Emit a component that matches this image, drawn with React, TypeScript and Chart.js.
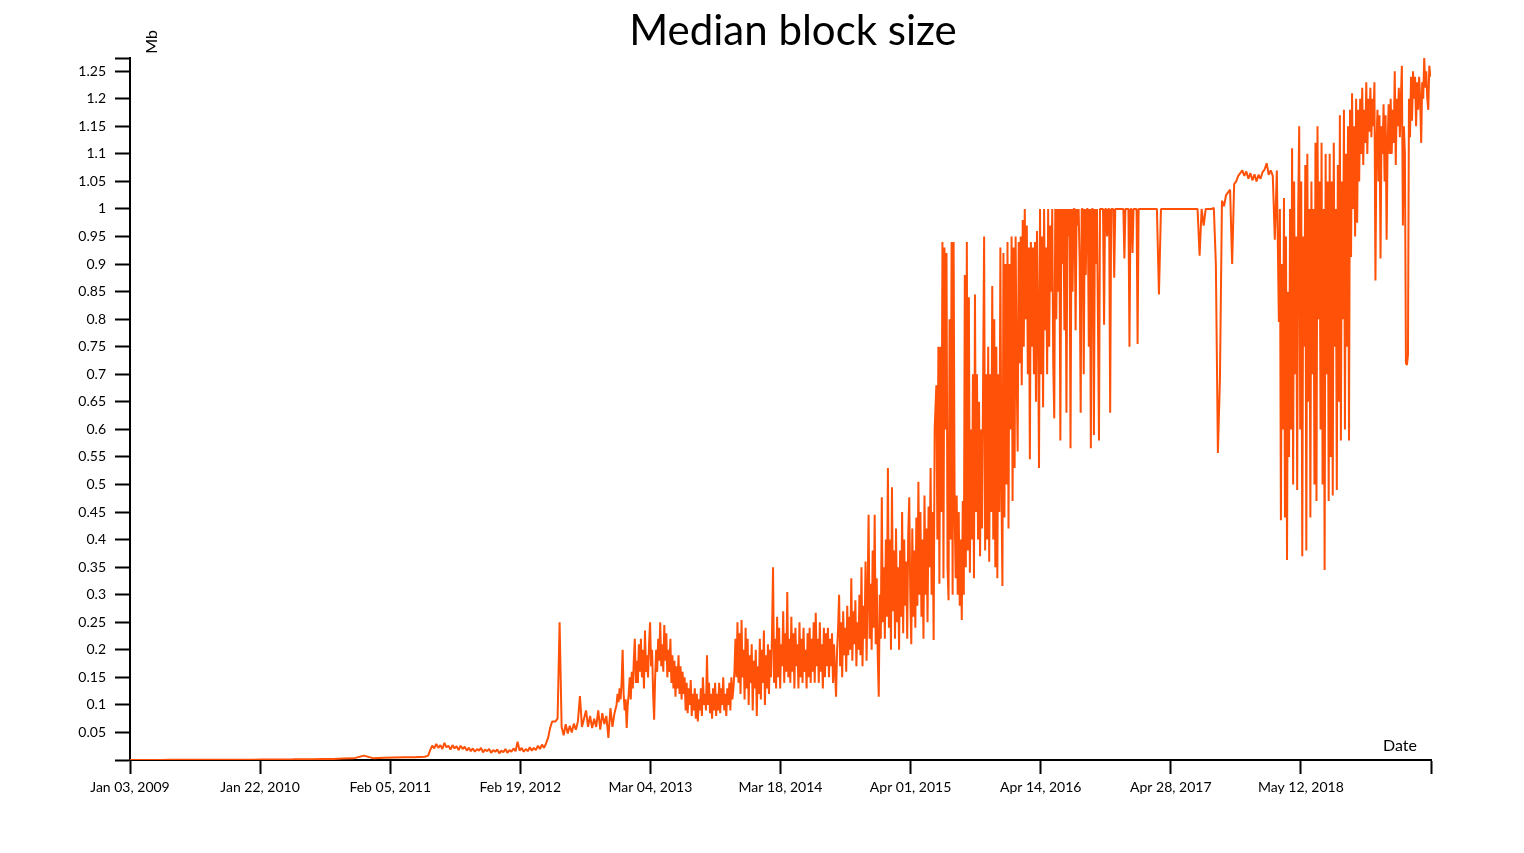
import React, { useEffect, useRef } from 'react';
import { Chart, registerables } from 'chart.js';

Chart.register(...registerables);

const LINE_COLOR = '#ff5107';
const FONT = 'Lato, "Open Sans", sans-serif';

// x axis = days since Jan 03, 2009
const X_MAX_DAYS = 3840;
const xTickDays = [0, 384, 768, 1152, 1536, 1920, 2304, 2688, 3072, 3456, 3840];
const xTickLabels = [
  'Jan 03, 2009', 'Jan 22, 2010', 'Feb 05, 2011', 'Feb 19, 2012', 'Mar 04, 2013',
  'Mar 18, 2014', 'Apr 01, 2015', 'Apr 14, 2016', 'Apr 28, 2017', 'May 12, 2018', '',
];

const Y_MAX = 1.274;
const yTickValues = [
  0, 0.05, 0.1, 0.15, 0.2, 0.25, 0.3, 0.35, 0.4, 0.45, 0.5, 0.55, 0.6,
  0.65, 0.7, 0.75, 0.8, 0.85, 0.9, 0.95, 1, 1.05, 1.1, 1.15, 1.2, 1.25,
];

// 2009 -> mid 2011, one sample every 30 days
const earlyStart = 0;
const earlyStep = 30;
const earlySizes = [
  0.0002, 0.0002, 0.0002, 0.0002, 0.0003, 0.0003, 0.0003, 0.0003, 0.0004, 0.0004,
  0.0005, 0.0005, 0.0006, 0.0007, 0.0008, 0.001, 0.0012, 0.0015, 0.0014, 0.0018,
  0.002, 0.0025, 0.003, 0.008, 0.003, 0.004, 0.0045, 0.005, 0.0048, 0.006,
];

// mid 2011 -> spring 2012, every 6 days
const start2011 = 880;
const step2011 = 6;
const sizes2011 = [
  0.008, 0.018, 0.026, 0.021, 0.029, 0.022, 0.027, 0.02, 0.031, 0.023,
  0.026, 0.019, 0.027, 0.021, 0.025, 0.018, 0.026, 0.02, 0.024, 0.017,
  0.022, 0.016, 0.021, 0.015, 0.02, 0.017, 0.022, 0.014, 0.019, 0.016,
  0.02, 0.013, 0.018, 0.015, 0.019, 0.012, 0.017, 0.014, 0.02, 0.013,
  0.018, 0.015, 0.021, 0.016, 0.033, 0.017, 0.022, 0.015, 0.02, 0.016,
  0.023, 0.017, 0.022, 0.018, 0.026, 0.02, 0.028, 0.022, 0.03, 0.04,
  0.058, 0.07,
];

// spring 2012 -> end 2012, every 6 days
const start2012 = 1256;
const step2012 = 6;
const sizes2012 = [
  0.07, 0.075, 0.25, 0.06, 0.045, 0.065, 0.048, 0.062, 0.05, 0.066,
  0.055, 0.07, 0.116, 0.06, 0.075, 0.09, 0.06, 0.08, 0.058, 0.075,
  0.06, 0.09, 0.055, 0.085, 0.065, 0.08, 0.04, 0.094, 0.06, 0.085,
];

// end 2012 -> spring 2015, every 3 days
const start2013 = 1436;
const step2013 = 3;
const sizes2013to2015 = [
  0.1, 0.12, 0.105, 0.13, 0.11, 0.14, 0.2, 0.12, 0.09, 0.11,
  0.058, 0.1, 0.12, 0.15, 0.11, 0.16, 0.13, 0.18, 0.22, 0.14,
  0.18, 0.14, 0.21, 0.16, 0.22, 0.15, 0.2, 0.13, 0.235, 0.16,
  0.19, 0.15, 0.21, 0.25, 0.17, 0.2, 0.12, 0.073, 0.15, 0.2,
  0.16, 0.22, 0.18, 0.25, 0.17, 0.21, 0.16, 0.245, 0.18, 0.23,
  0.15, 0.2, 0.16, 0.22, 0.14, 0.19, 0.13, 0.18, 0.115, 0.17,
  0.13, 0.19, 0.12, 0.17, 0.11, 0.16, 0.12, 0.15, 0.09, 0.14,
  0.085, 0.13, 0.1, 0.145, 0.08, 0.12, 0.09, 0.13, 0.075, 0.12,
  0.07, 0.11, 0.09, 0.13, 0.08, 0.15, 0.1, 0.12, 0.09, 0.19,
  0.1, 0.14, 0.085, 0.12, 0.075, 0.13, 0.09, 0.14, 0.08, 0.12,
  0.09, 0.14, 0.085, 0.13, 0.1, 0.15, 0.09, 0.12, 0.08, 0.13,
  0.1, 0.14, 0.09, 0.15, 0.11, 0.13, 0.16, 0.22,
  0.15, 0.25, 0.14, 0.23, 0.12, 0.254, 0.15, 0.2, 0.11, 0.24,
  0.13, 0.22, 0.1, 0.19, 0.14, 0.21, 0.09, 0.18, 0.13, 0.2,
  0.08, 0.17, 0.12, 0.22, 0.11, 0.2, 0.14, 0.235, 0.1, 0.19,
  0.13, 0.21, 0.12, 0.2, 0.15, 0.23, 0.35, 0.14, 0.22, 0.13,
  0.26, 0.15, 0.24, 0.13, 0.21, 0.17, 0.27, 0.14, 0.23, 0.16,
  0.305, 0.15, 0.22, 0.14, 0.26, 0.16, 0.23, 0.13, 0.24, 0.17,
  0.21, 0.13, 0.25, 0.15, 0.22, 0.14, 0.24, 0.16, 0.2, 0.13,
  0.23, 0.15, 0.24, 0.14, 0.22, 0.16, 0.25, 0.14, 0.267, 0.17,
  0.22, 0.14, 0.25, 0.16, 0.21, 0.13, 0.24, 0.15, 0.23, 0.17,
  0.24, 0.15, 0.22, 0.17, 0.23, 0.14, 0.21, 0.16, 0.115, 0.2,
  0.24, 0.3, 0.17, 0.25, 0.15, 0.27, 0.19, 0.24, 0.16, 0.28,
  0.19, 0.26, 0.2, 0.33, 0.18, 0.27, 0.21, 0.29, 0.17, 0.25,
  0.2, 0.3, 0.19, 0.35, 0.17, 0.28, 0.22, 0.36, 0.18, 0.3,
  0.445, 0.22, 0.32, 0.2, 0.38, 0.24, 0.445, 0.21, 0.33, 0.19,
  0.115, 0.3, 0.22, 0.477, 0.25, 0.35, 0.22, 0.4, 0.26, 0.53,
  0.24, 0.4, 0.2, 0.495, 0.27, 0.38, 0.22, 0.42, 0.25, 0.35,
  0.2, 0.38, 0.26, 0.45, 0.23, 0.4, 0.28, 0.36, 0.22, 0.41,
  0.477, 0.3, 0.21, 0.42, 0.26, 0.38, 0.24, 0.44, 0.28, 0.505,
  0.3, 0.45, 0.26, 0.4, 0.22, 0.48, 0.3, 0.42, 0.25, 0.46,
  0.35, 0.53, 0.3, 0.45, 0.218, 0.6,
];

// spring 2015 -> early 2017, every 3 days
const start2015 = 2380;
const step2015 = 3;
const sizes2015to2017 = [
  0.68, 0.4, 0.75, 0.32, 0.75, 0.45, 0.94, 0.33, 0.93, 0.6,
  0.92, 0.35, 0.29, 0.8, 0.4, 0.94, 0.3, 0.94, 0.45, 0.33,
  0.48, 0.3, 0.45, 0.28, 0.4, 0.254, 0.47, 0.3, 0.88, 0.35,
  0.94, 0.38, 0.84, 0.34, 0.6, 0.4, 0.7, 0.33, 0.845, 0.45,
  0.7, 0.4, 0.65, 0.37, 0.6, 0.42, 0.69, 0.95, 0.38, 0.7,
  0.4, 0.75, 0.36, 0.7, 0.45, 0.86, 0.4, 0.8, 0.35, 0.75,
  0.33, 0.7, 0.45, 0.93, 0.5, 0.316, 0.92, 0.44, 0.9, 0.5,
  0.94, 0.42, 0.9, 0.6, 0.95, 0.47, 0.93, 0.53, 0.95, 0.7,
  0.56, 0.94, 0.72, 0.95, 0.68, 0.98, 0.75, 1.0, 0.8, 0.97,
  0.7, 0.93, 0.546, 0.94, 0.75, 0.93, 0.7, 0.94, 0.65, 0.96,
  0.8, 0.53, 1.0, 0.7, 0.95, 0.64, 1.0, 0.78, 0.93, 0.7,
  1.0, 0.75, 0.97, 0.85, 1.0, 0.72, 0.62, 1.0, 0.8, 1.0,
  0.85, 1.0, 0.58, 1.0, 0.9, 1.0, 0.78, 1.0, 0.63, 1.0,
  0.95, 1.0, 0.566, 1.0, 0.85, 1.0, 1.0, 0.78, 1.0, 0.97,
  1.0, 0.9, 0.63, 1.0, 1.0, 0.7, 1.0, 0.88, 1.0, 1.0,
  0.75, 1.0, 0.566, 1.0, 1.0, 0.59, 1.0, 0.9, 1.0, 0.8,
  0.58, 1.0, 1.0, 1.0, 1.0, 0.79, 1.0, 1.0, 0.95, 1.0,
  1.0, 0.63, 1.0, 1.0, 1.0, 0.875, 1.0, 1.0, 1.0, 1.0,
  1.0, 1.0, 1.0, 1.0, 1.0, 0.91, 1.0, 1.0, 1.0, 1.0,
  0.75, 1.0, 1.0, 0.92, 1.0, 1.0, 1.0, 1.0, 0.755, 1.0,
  1.0, 1.0,
];

// 2017 -> spring 2018 (1 Mb plateau, then segwit), every 6 days
const start2017 = 2989;
const step2017 = 6;
const sizes2017 = [
  1.0, 1.0, 1.0, 1.0, 1.0, 1.0, 1.0, 1.0, 0.845, 1.0,
  1.0, 1.0, 1.0, 1.0, 1.0, 1.0, 1.0, 1.0, 1.0, 1.0,
  1.0, 1.0, 1.0, 1.0, 1.0, 1.0, 1.0, 1.0, 0.915, 1.0,
  0.97, 1.0, 1.0, 1.0, 1.0, 1.002, 0.9, 0.557, 0.69, 1.015,
  1.005, 1.025, 1.03, 1.035, 0.9, 1.045, 1.05, 1.06, 1.065, 1.07,
  1.06, 1.068, 1.055, 1.065, 1.052, 1.063, 1.05, 1.062, 1.055, 1.067,
  1.072, 1.083, 1.062, 1.07, 1.06, 0.944, 1.07,
];

// spring 2018 -> spring 2019, every 3 days
const start2018 = 3391;
const step2018 = 3;
const sizes2018to2019 = [
  0.795, 1.0, 0.435, 0.9, 0.6, 1.02, 0.44, 0.95, 0.363, 0.85,
  0.55, 1.0, 0.6, 1.11, 0.5, 1.05, 0.7, 0.95, 0.49, 1.0,
  1.15, 0.6, 1.05, 0.37, 0.95, 0.75, 1.08, 0.38, 1.1, 0.65,
  1.0, 0.44, 1.05, 0.7, 1.0, 0.5, 1.12, 0.47, 1.15, 0.8,
  1.05, 0.6, 1.12, 0.5, 1.0, 0.345, 1.1, 0.7, 1.05, 0.47,
  1.1, 0.55, 1.05, 0.48, 1.12, 0.75, 1.0, 0.49, 1.08, 0.65,
  1.17, 0.58, 1.05, 0.8, 1.18, 0.6, 1.1, 0.75, 1.15, 0.58,
  1.18, 0.913, 1.21, 1.0, 1.15, 0.95, 1.2, 0.975, 1.18, 1.05,
  1.2, 1.1, 1.22, 1.08, 1.18, 1.12, 1.23, 1.1, 1.2, 1.14,
  1.22, 1.13, 1.2, 1.15, 1.23, 0.87, 1.12, 1.18, 1.05, 1.17,
  0.91, 1.15, 1.1, 1.19, 1.05, 1.17, 0.944, 1.12, 1.19, 1.1,
  1.2, 1.1, 1.18, 1.12, 1.25, 1.08, 1.2, 1.15, 1.22, 1.13,
  1.2, 1.26, 0.97, 1.15, 1.1, 0.72, 0.717, 0.735, 1.2, 1.13,
  1.24, 1.16, 1.25, 1.2, 1.24, 1.15, 1.23, 1.18, 1.24, 1.2,
  1.12, 1.23, 1.2, 1.275, 1.22, 1.25, 1.2, 1.18, 1.26, 1.24,
];

const segments = [
  { start: earlyStart, step: earlyStep, values: earlySizes },
  { start: start2011, step: step2011, values: sizes2011 },
  { start: start2012, step: step2012, values: sizes2012 },
  { start: start2013, step: step2013, values: sizes2013to2015 },
  { start: start2015, step: step2015, values: sizes2015to2017 },
  { start: start2017, step: step2017, values: sizes2017 },
  { start: start2018, step: step2018, values: sizes2018to2019 },
];

const points = segments.flatMap(s => s.values.map((y, i) => ({ x: s.start + i * s.step, y })));

// title + axis captions drawn d3-style inside the plot
const captionsPlugin = {
  id: 'captions',
  afterDraw(chart: Chart) {
    const { ctx, chartArea } = chart;
    ctx.save();
    ctx.fillStyle = '#000';
    ctx.font = `42px ${FONT}`;
    ctx.textAlign = 'center';
    ctx.textBaseline = 'alphabetic';
    ctx.fillText('Median block size', 793, 45);

    ctx.font = `16px ${FONT}`;
    ctx.textAlign = 'right';
    ctx.fillText('Date', chartArea.right - 14, chartArea.bottom - 9);

    ctx.translate(chartArea.left + 27, 42);
    ctx.rotate(-Math.PI / 2);
    ctx.textAlign = 'center';
    ctx.fillText('Mb', 0, 0);
    ctx.restore();
  },
};

export default function App() {
  const canvasRef = useRef<HTMLCanvasElement | null>(null);

  useEffect(() => {
    if (!canvasRef.current) return;
    const chart = new Chart(canvasRef.current, {
      type: 'line',
      data: {
        datasets: [
          {
            label: 'Median block size',
            data: points,
            borderColor: LINE_COLOR,
            borderWidth: 2,
            borderJoinStyle: 'bevel',
            pointRadius: 0,
            tension: 0,
            fill: false,
          },
        ],
      },
      options: {
        responsive: true,
        maintainAspectRatio: false,
        animation: false,
        layout: { padding: { top: 58, right: 93, left: 0, bottom: 0 } },
        plugins: {
          legend: { display: false },
          title: { display: false },
          tooltip: { enabled: false },
        },
        scales: {
          x: {
            type: 'linear',
            min: 0,
            max: X_MAX_DAYS,
            afterBuildTicks: scale => {
              scale.ticks = xTickDays.map(v => ({ value: v }));
            },
            afterFit: scale => {
              scale.height = 93;
            },
            border: { display: true, color: '#000', width: 2 },
            grid: { drawOnChartArea: false, tickLength: 14, tickColor: '#000', tickWidth: 2 },
            ticks: {
              autoSkip: false,
              maxRotation: 0,
              padding: 5,
              color: '#000',
              font: { family: FONT, size: 14 },
              callback: (_v, i) => xTickLabels[i],
            },
          },
          y: {
            type: 'linear',
            min: 0,
            max: Y_MAX,
            afterBuildTicks: scale => {
              scale.ticks = [...yTickValues, Y_MAX].map(v => ({ value: v }));
            },
            afterFit: scale => {
              scale.width = 130;
            },
            border: { display: true, color: '#000', width: 2 },
            grid: { drawOnChartArea: false, tickLength: 15, tickColor: '#000', tickWidth: 2 },
            ticks: {
              autoSkip: false,
              padding: 9,
              color: '#000',
              font: { family: FONT, size: 14 },
              callback: v => {
                const n = Number(v);
                if (n === 0 || n === Y_MAX) return '';
                return String(Number(n.toFixed(2)));
              },
            },
          },
        },
      },
      plugins: [captionsPlugin],
    });
    return () => chart.destroy();
  }, []);

  return (
    <div style={{ position: 'absolute', left: 0, top: 0, width: 1524, height: 853, background: '#fff' }}>
      <canvas ref={canvasRef} />
    </div>
  );
}
